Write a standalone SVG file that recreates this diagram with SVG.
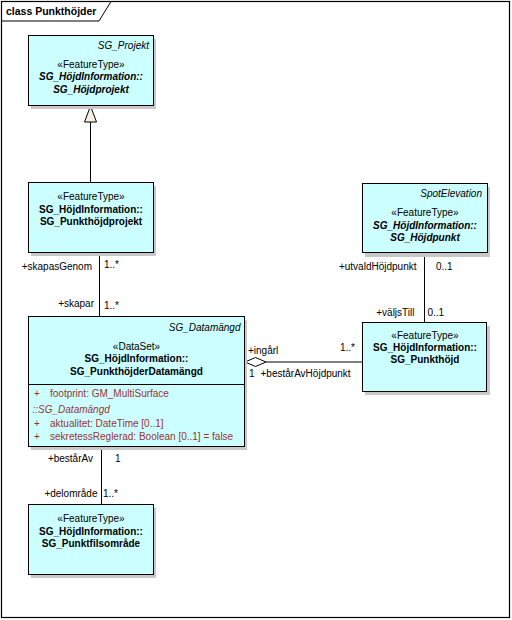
<svg xmlns="http://www.w3.org/2000/svg" width="512" height="620" viewBox="0 0 512 620">
<style>
text{font-family:"Liberation Sans",Arial,sans-serif;font-size:10px;fill:#000}
.c{text-anchor:middle}
.r{text-anchor:end}
.b{font-weight:bold}
.i{font-style:italic}
.a{fill:#993333}
.box{fill:#CCFFFF;stroke:#000;stroke-width:1}
.sh{fill:#c8c8c8}
.ln{stroke:#000;stroke-width:1;fill:none}
</style>
<rect x="0" y="0" width="512" height="620" fill="#fff"/>
<g id="frame">
<rect x="1.5" y="1.5" width="508" height="616" fill="none" stroke="#000" stroke-width="1.2"/>
<path d="M1.5,21 H99 L111,1.5" fill="none" stroke="#000" stroke-width="1"/>
<text x="6" y="15" class="b" style="font-size:10.5px">class Punkthöjder</text>
</g>
<g id="connectors">
<line class="ln" x1="90.5" y1="122" x2="90.5" y2="183"/>
<polygon points="90.5,106 84.5,122 96.5,122" fill="#f8f0e8" stroke="#000"/>
<line class="ln" x1="99.5" y1="253" x2="99.5" y2="317"/>
<line class="ln" x1="101.5" y1="447" x2="101.5" y2="505"/>
<line class="ln" x1="424.5" y1="253" x2="424.5" y2="322"/>
<line class="ln" x1="266" y1="362" x2="362" y2="362"/>
<polygon points="245,362 255.5,357.5 266,362 255.5,366.5" fill="#fff" stroke="#000"/>
<text x="92" y="270" class="r">+skapasGenom</text>
<text x="104" y="268">1..*</text>
<text x="94" y="306.5" class="r">+skapar</text>
<text x="104" y="309">1..*</text>
<text x="93" y="462" class="r">+bestårAv</text>
<text x="115" y="462">1</text>
<text x="97.5" y="497" class="r">+delområde</text>
<text x="103" y="497">1..*</text>
<text x="416.5" y="270" class="r">+utvaldHöjdpunkt</text>
<text x="436" y="270">0..1</text>
<text x="414.5" y="315.5" class="r">+väljsTill</text>
<text x="427.5" y="315.5">0..1</text>
<text x="248" y="354">+ingårl</text>
<text x="355" y="350.5" class="r">1..*</text>
<text x="249" y="377">1</text>
<text x="260.5" y="377">+bestårAvHöjdpunkt</text>
</g>
<g id="SG_Hojdprojekt">
<rect class="sh" x="31" y="39" width="125" height="70"/>
<rect class="box" x="28.5" y="35.5" width="125" height="70"/>
<text x="149" y="48.5" class="r i">SG_Projekt</text>
<text x="91" y="67.5" class="c">«FeatureType»</text>
<text x="91" y="80" class="c b i">SG_HöjdInformation::</text>
<text x="91" y="92.5" class="c b i">SG_Höjdprojekt</text>
</g>
<g id="SG_Punkthojdprojekt">
<rect class="sh" x="31" y="186" width="125" height="70"/>
<rect class="box" x="28.5" y="182.5" width="125" height="70"/>
<text x="91" y="200" class="c">«FeatureType»</text>
<text x="91" y="212.5" class="c b">SG_HöjdInformation::</text>
<text x="91" y="225" class="c b">SG_Punkthöjdprojekt</text>
</g>
<g id="SG_PunkthojderDatamangd">
<rect class="sh" x="31" y="320" width="216" height="130"/>
<rect class="box" x="28.5" y="316.5" width="216" height="130"/>
<line class="ln" x1="28.5" y1="384.5" x2="244.5" y2="384.5"/>
<text x="240.5" y="330.5" class="r i">SG_Datamängd</text>
<text x="136.5" y="349.5" class="c">«DataSet»</text>
<text x="136.5" y="362" class="c b">SG_HöjdInformation::</text>
<text x="136.5" y="374.5" class="c b">SG_PunkthöjderDatamängd</text>
<text x="34" y="397" class="a">+</text>
<text x="50" y="397" class="a">footprint: GM_MultiSurface</text>
<text x="32.5" y="413" class="i a">::SG_Datamängd</text>
<text x="34" y="426.5" class="a">+</text>
<text x="50" y="426.5" class="a">aktualitet: DateTime [0..1]</text>
<text x="34" y="440" class="a">+</text>
<text x="50" y="440" class="a">sekretessReglerad: Boolean [0..1] = false</text>
</g>
<g id="SG_Punktfilsomrade">
<rect class="sh" x="31" y="508" width="125" height="70"/>
<rect class="box" x="28.5" y="504.5" width="125" height="70"/>
<text x="91" y="522" class="c">«FeatureType»</text>
<text x="91" y="534.5" class="c b">SG_HöjdInformation::</text>
<text x="91" y="547" class="c b">SG_Punktfilsområde</text>
</g>
<g id="SG_Hojdpunkt">
<rect class="sh" x="365" y="187" width="125" height="70"/>
<rect class="box" x="362.5" y="183.5" width="125" height="69"/>
<text x="482" y="197" class="r i">SpotElevation</text>
<text x="425" y="216" class="c">«FeatureType»</text>
<text x="425" y="228.5" class="c b i">SG_HöjdInformation::</text>
<text x="425" y="241" class="c b i">SG_Höjdpunkt</text>
</g>
<g id="SG_Punkthojd">
<rect class="sh" x="365" y="326" width="125" height="69"/>
<rect class="box" x="362.5" y="322.5" width="124" height="69"/>
<text x="425" y="339" class="c">«FeatureType»</text>
<text x="425" y="351" class="c b">SG_HöjdInformation::</text>
<text x="425" y="363" class="c b">SG_Punkthöjd</text>
</g>
</svg>
